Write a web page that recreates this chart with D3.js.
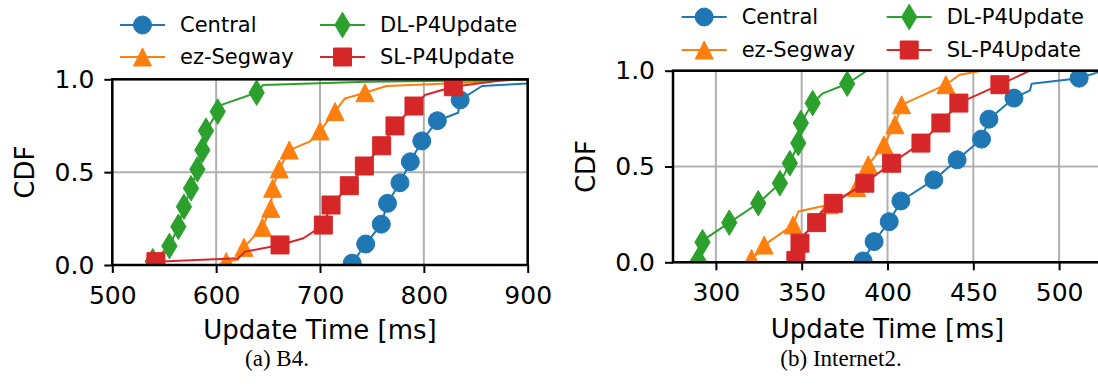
<!DOCTYPE html>
<html>
<head>
<meta charset="utf-8">
<script src="https://cdn.jsdelivr.net/npm/d3@7/dist/d3.min.js"></script>
<style>
body{margin:0;background:#fff;}
svg{display:block;font-family:"DejaVu Sans",sans-serif;}
</style>
</head>
<body>
<div id="chart"></div>
<script>
// values: [update time in ms, cdf]
const seriesNames = ['Central', 'ez-Segway', 'DL-P4Update', 'SL-P4Update']
const b4Ticks = [500, 600, 700, 800, 900]
const i2Ticks = [300, 350, 400, 450, 500]
const cdfTicks = [0, 0.5, 1]

// (a) B4
const b4CentralLine = [[728,0],[731,0.01],[744,0.113],[759,0.22],[765,0.332],[777,0.443],[787,0.556],[798,0.668],[813,0.777],[833,0.82],[835,0.889],[856,0.964],[900,0.977]]
const b4CentralMarks = [[731,0.01],[744,0.113],[759,0.22],[765,0.332],[777,0.443],[787,0.556],[798,0.668],[813,0.777],[835,0.889]]
const b4SegwayLine = [[603,0],[609.7,0.018],[621,0.03],[626.8,0.095],[644.5,0.203],[652.5,0.305],[654.4,0.413],[660.8,0.517],[670.4,0.619],[690,0.664],[700,0.722],[714.5,0.826],[724,0.897],[743.3,0.928],[764,0.964],[822,0.978],[900,1]]
const b4SegwayMarks = [[609.7,0.018],[626.8,0.095],[644.5,0.203],[652.5,0.305],[654.4,0.413],[660.8,0.517],[670.4,0.619],[700,0.722],[714.5,0.826],[743.3,0.928]]
const b4DlLine = [[532,0],[539,0.02],[555,0.102],[563.6,0.206],[569,0.314],[575.8,0.413],[581.9,0.515],[586.7,0.619],[590.2,0.723],[601.5,0.826],[605,0.862],[639,0.928],[645,0.969],[745,0.987],[900,0.997]]
const b4DlMarks = [[539,0.02],[555,0.102],[563.6,0.206],[569,0.314],[575.8,0.413],[581.9,0.515],[586.7,0.619],[590.2,0.723],[601.5,0.826],[639,0.928]]
const b4SlLine = [[533,0],[542,0.018],[621,0.036],[628,0.072],[661.5,0.108],[684,0.144],[703.2,0.215],[710.6,0.323],[728.2,0.427],[742.7,0.533],[759.4,0.642],[772.2,0.749],[790.5,0.856],[801,0.915],[828.4,0.96],[883,1],[900,1]]
const b4SlMarks = [[542,0.018],[661.5,0.108],[703.2,0.215],[710.6,0.323],[728.2,0.427],[742.7,0.533],[759.4,0.642],[772.2,0.749],[790.5,0.856],[828.4,0.96]]

// (b) Internet2
const i2CentralLine = [[384,0],[385.8,0.007],[392.2,0.108],[401,0.212],[407.8,0.32],[427,0.43],[440.6,0.535],[454.8,0.643],[459.1,0.747],[473.7,0.857],[483,0.897],[484,0.932],[511.7,0.961],[525,0.998]]
const i2CentralMarks = [[385.8,0.007],[392.2,0.108],[401,0.212],[407.8,0.32],[427,0.43],[440.6,0.535],[454.8,0.643],[459.1,0.747],[473.7,0.857],[511.7,0.961]]
const i2SegwayLine = [[318.2,0],[320.8,0.02],[325,0.05],[328.1,0.09],[345,0.195],[348,0.265],[366,0.3],[372,0.33],[382,0.39],[388.8,0.509],[397.9,0.613],[404.3,0.718],[408.2,0.822],[434,0.927],[442,0.979],[455,1]]
const i2SegwayMarks = [[320.8,0.02],[328.1,0.09],[345,0.195],[366,0.3],[382,0.39],[388.8,0.509],[397.9,0.613],[404.3,0.718],[408.2,0.822],[434,0.927]]
const i2DlLine = [[285.8,0],[289.7,0.01],[292.2,0.105],[295,0.13],[307.8,0.207],[324.7,0.308],[337.3,0.413],[343.1,0.517],[348,0.622],[349.5,0.727],[356.4,0.831],[362,0.88],[376.5,0.932],[388,1]]
const i2DlMarks = [[289.7,0.01],[292.2,0.105],[307.8,0.207],[324.7,0.308],[337.3,0.413],[343.1,0.517],[348,0.622],[349.5,0.727],[356.4,0.831],[376.5,0.932]]
const i2SlLine = [[345,0],[346.6,0.01],[349,0.1],[352,0.15],[358.7,0.207],[361,0.26],[368.4,0.308],[386.8,0.413],[402.4,0.517],[419.5,0.622],[431.1,0.727],[441.6,0.831],[465.5,0.927],[483,1]]
const i2SlMarks = [[346.6,0.01],[349,0.1],[358.7,0.207],[368.4,0.308],[386.8,0.413],[402.4,0.517],[419.5,0.622],[431.1,0.727],[441.6,0.831],[465.5,0.927]]

const colors = ['#1f77b4', '#ff7f0e', '#2ca02c', '#d62728']
const ms = 18

// marker paths the way matplotlib draws o, ^, d, s
function markerPath(i){
    let h = ms / 2
    if(i == 0) return d3.symbol(d3.symbolCircle, Math.PI * h * h)()
    if(i == 1) return `M0,${-h}L${h},${h}L${-h},${h}Z`
    if(i == 2){
        let dy = ms * Math.SQRT2 / 2, dx = dy * 0.6
        return `M0,${-dy}L${dx},0L0,${dy}L${-dx},0Z`
    }
    return `M${-h},${-h}H${h}V${h}H${-h}Z`
}

const svg = d3.select('#chart')
    .append('svg')
    .attr('width', 1098)
    .attr('height', 387)

function drawPanel(p, id){
    let x = d3.scaleLinear().domain(p.domain).range([p.left, p.right])
    let y = d3.scaleLinear().domain([0, 1]).range([p.bottom, p.top])

    svg.append('clipPath').attr('id', 'clip' + id)
        .append('rect')
        .attr('x', p.left).attr('y', p.top)
        .attr('width', p.right - p.left).attr('height', p.bottom - p.top)

    // grid
    let g = svg.append('g')
    g.selectAll('.vgrid')
        .data(p.ticks)
        .join('line')
        .attr('x1', d => x(d)).attr('x2', d => x(d))
        .attr('y1', p.top).attr('y2', p.bottom)
        .attr('stroke', '#b0b0b0').attr('stroke-width', 2)
    g.selectAll('.hgrid')
        .data(cdfTicks)
        .join('line')
        .attr('x1', p.left).attr('x2', p.right)
        .attr('y1', d => y(d)).attr('y2', d => y(d))
        .attr('stroke', '#b0b0b0').attr('stroke-width', 2)

    let plot = svg.append('g').attr('clip-path', `url(#clip${id})`)
    let line = d3.line().x(d => x(d[0])).y(d => y(d[1]))

    p.series.forEach((s, i) => {
        plot.append('path')
            .attr('fill', 'none')
            .attr('stroke', colors[i])
            .attr('stroke-width', 2)
            .attr('stroke-linejoin', 'round')
            .attr('d', line(s.line))
        plot.selectAll('.m' + i)
            .data(s.marks)
            .join('path')
            .attr('transform', d => `translate(${x(d[0])},${y(d[1])})`)
            .attr('d', markerPath(i))
            .attr('fill', colors[i])
            .attr('stroke', colors[i])
            .attr('stroke-width', 1)
    })

    // axes
    let xAxis = svg.append('g')
        .attr('transform', `translate(0,${p.bottom})`)
        .call(d3.axisBottom(x).tickValues(p.ticks).tickSize(8).tickPadding(13))
    let yAxis = svg.append('g')
        .attr('transform', `translate(${p.left},0)`)
        .call(d3.axisLeft(y).tickValues(cdfTicks).tickFormat(d3.format('.1f')).tickSize(8).tickPadding(10))
    for(let a of [xAxis, yAxis]){
        a.select('.domain').remove()
        a.selectAll('line').attr('stroke', '#000').attr('stroke-width', 2)
        a.selectAll('text')
            .attr('fill', '#000')
            .style('font-family', '"DejaVu Sans", sans-serif')
            .style('font-size', '25px')
    }

    // spines
    svg.append('rect')
        .attr('x', p.left).attr('y', p.top)
        .attr('width', p.right - p.left).attr('height', p.bottom - p.top)
        .attr('fill', 'none').attr('stroke', '#000').attr('stroke-width', 2.5)

    svg.append('text')
        .attr('x', (p.left + p.right) / 2)
        .attr('y', p.xlabelY)
        .attr('text-anchor', 'middle')
        .style('font-size', '26px')
        .text('Update Time [ms]')
    svg.append('text')
        .attr('transform', `translate(${p.ylabelX},${(p.top + p.bottom) / 2}) rotate(-90)`)
        .attr('text-anchor', 'middle')
        .attr('dy', '0.35em')
        .style('font-size', '26px')
        .text('CDF')

    // legend, two columns
    seriesNames.forEach((name, i) => {
        let lx = p.legendCols[Math.floor(i / 2)]
        let ly = p.legendRows[i % 2]
        let lg = svg.append('g')
        lg.append('line')
            .attr('x1', lx).attr('x2', lx + 45)
            .attr('y1', ly).attr('y2', ly)
            .attr('stroke', colors[i]).attr('stroke-width', 2)
        lg.append('path')
            .attr('transform', `translate(${lx + 22.5},${ly})`)
            .attr('d', markerPath(i))
            .attr('fill', colors[i]).attr('stroke', colors[i]).attr('stroke-width', 1)
        lg.append('text')
            .attr('x', lx + 60).attr('y', ly)
            .attr('dy', '0.35em')
            .style('font-size', '21px')
            .text(name)
    })

    svg.append('text')
        .attr('x', p.captionX).attr('y', 366)
        .attr('text-anchor', 'middle')
        .style('font-family', '"Liberation Serif", "Times New Roman", serif')
        .style('font-size', '23px')
        .text(p.caption)
}

drawPanel({
    domain: [500, 900], ticks: b4Ticks,
    left: 112.3, right: 527.7, top: 79.3, bottom: 265,
    xlabelY: 339, ylabelX: 25,
    legendCols: [120, 320], legendRows: [25, 57],
    captionX: 277, caption: '(a) B4.',
    series: [
        {line: b4CentralLine, marks: b4CentralMarks},
        {line: b4SegwayLine, marks: b4SegwayMarks},
        {line: b4DlLine, marks: b4DlMarks},
        {line: b4SlLine, marks: b4SlMarks}
    ]
}, 'a')

drawPanel({
    domain: [275, 525], ticks: i2Ticks,
    left: 673, right: 1102, top: 70.7, bottom: 262.3,
    xlabelY: 338, ylabelX: 586,
    legendCols: [681.7, 886.7], legendRows: [17, 50],
    captionX: 841, caption: '(b) Internet2.',
    series: [
        {line: i2CentralLine, marks: i2CentralMarks},
        {line: i2SegwayLine, marks: i2SegwayMarks},
        {line: i2DlLine, marks: i2DlMarks},
        {line: i2SlLine, marks: i2SlMarks}
    ]
}, 'b')
</script>
</body>
</html>
